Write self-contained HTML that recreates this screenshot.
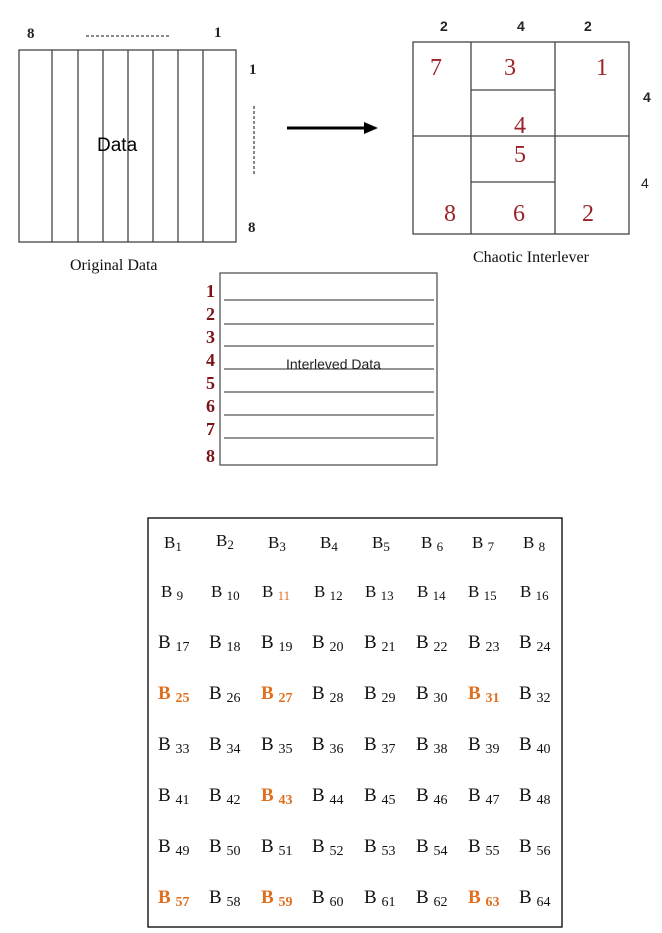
<!DOCTYPE html>
<html><head><meta charset="utf-8"><style>
html,body{margin:0;padding:0;background:#fff;}
svg{display:block;}
.s{font-family:"Liberation Serif",serif;}
.a{font-family:"Liberation Sans",sans-serif;}
</style></head><body>
<svg width="662" height="933" viewBox="0 0 662 933" xmlns="http://www.w3.org/2000/svg">
<!-- Original data -->
<g stroke="#444" stroke-width="1.3" fill="none">
<rect x="19" y="50" width="217" height="192"/>
<line x1="52" y1="50" x2="52" y2="242"/><line x1="78" y1="50" x2="78" y2="242"/>
<line x1="103" y1="50" x2="103" y2="242"/><line x1="128" y1="50" x2="128" y2="242"/>
<line x1="153" y1="50" x2="153" y2="242"/><line x1="178" y1="50" x2="178" y2="242"/>
<line x1="203" y1="50" x2="203" y2="242"/>
<line x1="86" y1="36" x2="170" y2="36" stroke-dasharray="3,2"/>
<line x1="254" y1="106" x2="254" y2="174" stroke-dasharray="3,2"/>
</g>
<g class="s" font-size="15" font-weight="bold" fill="#222">
<text x="27" y="38">8</text><text x="214" y="37">1</text>
<text x="249" y="74">1</text><text x="248" y="232">8</text>
</g>
<text x="97" y="151" class="a" font-size="19" fill="#000">Data</text>
<text x="70" y="270" class="s" font-size="16" fill="#111">Original Data</text>
<!-- arrow -->
<line x1="287" y1="128" x2="366" y2="128" stroke="#000" stroke-width="3"/>
<polygon points="364,122 378,128 364,134" fill="#000"/>
<!-- Chaotic -->
<g stroke="#444" stroke-width="1.3" fill="none">
<rect x="413" y="42" width="216" height="192"/>
<line x1="471" y1="42" x2="471" y2="234"/><line x1="555" y1="42" x2="555" y2="234"/>
<line x1="413" y1="136" x2="629" y2="136"/>
<line x1="471" y1="90" x2="555" y2="90"/><line x1="471" y1="182" x2="555" y2="182"/>
</g>
<g class="a" font-size="14" font-weight="bold" fill="#222">
<text x="440" y="31">2</text><text x="517" y="31">4</text><text x="584" y="31">2</text>
<text x="643" y="102">4</text><text x="641" y="188" font-weight="normal">4</text>
</g>
<g class="s" font-size="24" fill="#9b2226">
<text x="430" y="75">7</text><text x="504" y="75">3</text><text x="596" y="75">1</text>
<text x="514" y="133">4</text><text x="514" y="162">5</text>
<text x="444" y="221">8</text><text x="513" y="221">6</text><text x="582" y="221">2</text>
</g>
<text x="473" y="262" class="s" font-size="16" fill="#111">Chaotic Interlever</text>
<!-- Interleaved -->
<g stroke="#555" stroke-width="1.3" fill="none">
<rect x="220" y="273" width="217" height="192"/>
<line x1="224" y1="300" x2="434" y2="300"/><line x1="224" y1="324" x2="434" y2="324"/>
<line x1="224" y1="346" x2="434" y2="346"/><line x1="224" y1="369" x2="434" y2="369"/>
<line x1="224" y1="392" x2="434" y2="392"/><line x1="224" y1="415" x2="434" y2="415"/>
<line x1="224" y1="438" x2="434" y2="438"/>
</g>
<g class="s" font-size="18" font-weight="bold" fill="#7b1416">
<text x="206" y="297">1</text><text x="206" y="320">2</text><text x="206" y="343">3</text>
<text x="206" y="366">4</text><text x="206" y="389">5</text><text x="206" y="412">6</text>
<text x="206" y="435">7</text><text x="206" y="462">8</text>
</g>
<text x="286" y="369" class="a" font-size="14" fill="#222">Interleved Data</text>
<!-- Grid -->
<rect x="148" y="518" width="414" height="409" fill="none" stroke="#000" stroke-width="1.3"/>
<g class="s" fill="#111">
<g font-size="17">
<text x="164" y="548">B<tspan font-size="13" dy="3">1</tspan></text>
<text x="216" y="546">B<tspan font-size="13" dy="3">2</tspan></text>
<text x="268" y="548">B<tspan font-size="13" dy="3">3</tspan></text>
<text x="320" y="548">B<tspan font-size="13" dy="3">4</tspan></text>
<text x="372" y="548">B<tspan font-size="13" dy="3">5</tspan></text>
<text x="421" y="548">B <tspan font-size="13" dy="3">6</tspan></text>
<text x="472" y="548">B <tspan font-size="13" dy="3">7</tspan></text>
<text x="523" y="548">B <tspan font-size="13" dy="3">8</tspan></text>
<text x="161" y="597">B <tspan font-size="13" dy="3">9</tspan></text>
<text x="211" y="597">B <tspan font-size="13" dy="3">10</tspan></text>
<text x="262" y="597">B <tspan font-size="13" dy="3" fill="#e07020">11</tspan></text>
<text x="314" y="597">B <tspan font-size="13" dy="3">12</tspan></text>
<text x="365" y="597">B <tspan font-size="13" dy="3">13</tspan></text>
<text x="417" y="597">B <tspan font-size="13" dy="3">14</tspan></text>
<text x="468" y="597">B <tspan font-size="13" dy="3">15</tspan></text>
<text x="520" y="597">B <tspan font-size="13" dy="3">16</tspan></text>
</g>
<g font-size="19" id="rows"></g>
</g>
<g class="s" font-size="19" fill="#111">
<!-- row 3 -->
<text x="158" y="648">B <tspan font-size="14" dy="3">17</tspan></text>
<text x="209" y="648">B <tspan font-size="14" dy="3">18</tspan></text>
<text x="261" y="648">B <tspan font-size="14" dy="3">19</tspan></text>
<text x="312" y="648">B <tspan font-size="14" dy="3">20</tspan></text>
<text x="364" y="648">B <tspan font-size="14" dy="3">21</tspan></text>
<text x="416" y="648">B <tspan font-size="14" dy="3">22</tspan></text>
<text x="468" y="648">B <tspan font-size="14" dy="3">23</tspan></text>
<text x="519" y="648">B <tspan font-size="14" dy="3">24</tspan></text>
<!-- row 4 -->
<text x="158" y="699" fill="#e07020" font-weight="bold">B <tspan font-size="14" dy="3">25</tspan></text>
<text x="209" y="699">B <tspan font-size="14" dy="3">26</tspan></text>
<text x="261" y="699" fill="#e07020" font-weight="bold">B <tspan font-size="14" dy="3">27</tspan></text>
<text x="312" y="699">B <tspan font-size="14" dy="3">28</tspan></text>
<text x="364" y="699">B <tspan font-size="14" dy="3">29</tspan></text>
<text x="416" y="699">B <tspan font-size="14" dy="3">30</tspan></text>
<text x="468" y="699" fill="#e07020" font-weight="bold">B <tspan font-size="14" dy="3">31</tspan></text>
<text x="519" y="699">B <tspan font-size="14" dy="3">32</tspan></text>
<!-- row 5 -->
<text x="158" y="750">B <tspan font-size="14" dy="3">33</tspan></text>
<text x="209" y="750">B <tspan font-size="14" dy="3">34</tspan></text>
<text x="261" y="750">B <tspan font-size="14" dy="3">35</tspan></text>
<text x="312" y="750">B <tspan font-size="14" dy="3">36</tspan></text>
<text x="364" y="750">B <tspan font-size="14" dy="3">37</tspan></text>
<text x="416" y="750">B <tspan font-size="14" dy="3">38</tspan></text>
<text x="468" y="750">B <tspan font-size="14" dy="3">39</tspan></text>
<text x="519" y="750">B <tspan font-size="14" dy="3">40</tspan></text>
<!-- row 6 -->
<text x="158" y="801">B <tspan font-size="14" dy="3">41</tspan></text>
<text x="209" y="801">B <tspan font-size="14" dy="3">42</tspan></text>
<text x="261" y="801" fill="#e07020" font-weight="bold">B <tspan font-size="14" dy="3">43</tspan></text>
<text x="312" y="801">B <tspan font-size="14" dy="3">44</tspan></text>
<text x="364" y="801">B <tspan font-size="14" dy="3">45</tspan></text>
<text x="416" y="801">B <tspan font-size="14" dy="3">46</tspan></text>
<text x="468" y="801">B <tspan font-size="14" dy="3">47</tspan></text>
<text x="519" y="801">B <tspan font-size="14" dy="3">48</tspan></text>
<!-- row 7 -->
<text x="158" y="852">B <tspan font-size="14" dy="3">49</tspan></text>
<text x="209" y="852">B <tspan font-size="14" dy="3">50</tspan></text>
<text x="261" y="852">B <tspan font-size="14" dy="3">51</tspan></text>
<text x="312" y="852">B <tspan font-size="14" dy="3">52</tspan></text>
<text x="364" y="852">B <tspan font-size="14" dy="3">53</tspan></text>
<text x="416" y="852">B <tspan font-size="14" dy="3">54</tspan></text>
<text x="468" y="852">B <tspan font-size="14" dy="3">55</tspan></text>
<text x="519" y="852">B <tspan font-size="14" dy="3">56</tspan></text>
<!-- row 8 -->
<text x="158" y="903" fill="#e07020" font-weight="bold">B <tspan font-size="14" dy="3">57</tspan></text>
<text x="209" y="903">B <tspan font-size="14" dy="3">58</tspan></text>
<text x="261" y="903" fill="#e07020" font-weight="bold">B <tspan font-size="14" dy="3">59</tspan></text>
<text x="312" y="903">B <tspan font-size="14" dy="3">60</tspan></text>
<text x="364" y="903">B <tspan font-size="14" dy="3">61</tspan></text>
<text x="416" y="903">B <tspan font-size="14" dy="3">62</tspan></text>
<text x="468" y="903" fill="#e07020" font-weight="bold">B <tspan font-size="14" dy="3">63</tspan></text>
<text x="519" y="903">B <tspan font-size="14" dy="3">64</tspan></text>
</g>
</svg>
</body></html>
